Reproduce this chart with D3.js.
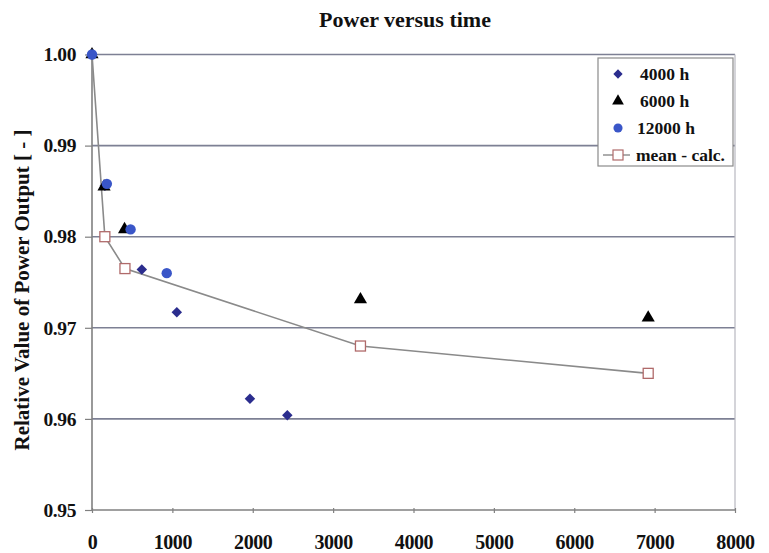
<!DOCTYPE html>
<html><head><meta charset="utf-8">
<script src="https://cdn.jsdelivr.net/npm/d3@7"></script>
<style>
body{margin:0;background:#fff;}
svg text{font-family:'Times New Roman','Liberation Serif',Times,serif !important;font-weight:bold;fill:#111;}
</style></head>
<body><svg id="c" width="769" height="553" style="font-family:'Times New Roman','Liberation Serif',serif"></svg>
<script>
// Data (hours, relative power)
const series4000X = [0, 160, 620, 1055, 1965, 2430];
const series4000Y = [1.000, 0.9856, 0.9764, 0.9717, 0.9622, 0.9604];
const series6000X = [0, 150, 405, 3340, 6920];
const series6000Y = [1.000, 0.9855, 0.9808, 0.9731, 0.9711];
const series12000X = [0, 185, 480, 930];
const series12000Y = [1.000, 0.9858, 0.9808, 0.9760];
const meanX = [0, 160, 410, 3340, 6920];
const meanY = [1.000, 0.9800, 0.9765, 0.9680, 0.9650];
const xTicks = [0,1000,2000,3000,4000,5000,6000,7000,8000];
const yTicks = [0.95,0.96,0.97,0.98,0.99,1.00];
const legendLabels = ["4000 h","6000 h","12000 h","mean - calc."];
const titleText = "Power versus time";
const yTitle = "Relative Value of Power Output [ - ]";

const FONT = "'Times New Roman','Liberation Serif',serif";
const svg = d3.select("#c");
const L=92, R=735, T=54.5, B=510;
const x = d3.scaleLinear().domain([0,8000]).range([L,R]);
const y = d3.scaleLinear().domain([0.95,1.00]).range([B,T]);

// gridlines
svg.append("g").selectAll("line").data(yTicks.filter(d=>d>0.95)).join("line")
  .attr("x1",L).attr("x2",R).attr("y1",d=>y(d)).attr("y2",d=>y(d))
  .attr("stroke","#7d8094").attr("stroke-width",1.6);
// right border
svg.append("line").attr("x1",R).attr("x2",R).attr("y1",T).attr("y2",B).attr("stroke","#b8b8c0").attr("stroke-width",1.2);

// axes
const xAxis = d3.axisBottom(x).tickValues(xTicks).tickSize(5).tickFormat(d3.format("d"));
const gx = svg.append("g").attr("transform",`translate(0,${B-2})`).call(xAxis).attr("font-family",FONT);
gx.select(".domain").attr("stroke","#808080").attr("stroke-width",1.6).attr("d",`M${L},2H${R}`);
gx.selectAll(".tick line").attr("stroke","#808080").attr("stroke-width",1.2);
gx.selectAll(".tick text").attr("y",41).attr("dy","0").attr("font-size",20).attr("letter-spacing","-0.4").attr("fill","#111");

const yAxis = d3.axisLeft(y).tickValues(yTicks).tickSize(7).tickFormat(d3.format(".2f"));
const gy = svg.append("g").attr("transform",`translate(${L},0)`).call(yAxis).attr("font-family",FONT);
gy.select(".domain").attr("stroke","#808080").attr("stroke-width",1.6).attr("d",`M0,${T}V${B}`);
gy.selectAll(".tick line").attr("stroke","#808080").attr("stroke-width",1.2);
gy.selectAll(".tick text").attr("x",-16).attr("font-size",19.5).attr("letter-spacing","-0.4").attr("fill","#111");

// title
svg.append("text").attr("x",405).attr("y",27).attr("text-anchor","middle").attr("font-size",22).text(titleText);
// y title
svg.append("text").attr("transform","translate(29,290) rotate(-90)").attr("text-anchor","middle")
  .attr("font-size",21).text(yTitle);

// mean line
const meanPts = meanX.map((v,i)=>[v,meanY[i]]);
svg.append("path").datum(meanPts)
  .attr("d",d3.line().x(d=>x(d[0])).y(d=>y(d[1])))
  .attr("fill","none").attr("stroke","#8a8a8a").attr("stroke-width",1.6);

const diamond = d3.symbol().type(d3.symbolDiamond2).size(70);
const tri = d3.symbol().type(d3.symbolTriangle).size(75);
const circ = d3.symbol().type(d3.symbolCircle).size(85);

const s4 = series4000X.map((v,i)=>[v,series4000Y[i]]);
const s6 = series6000X.map((v,i)=>[v,series6000Y[i]]);
const s12 = series12000X.map((v,i)=>[v,series12000Y[i]]);

svg.append("g").selectAll("path").data(s4).join("path")
  .attr("d",diamond).attr("transform",d=>`translate(${x(d[0])},${y(d[1])})`).attr("fill","#2b2d8e");
svg.append("g").selectAll("path").data(s6).join("path")
  .attr("d",tri).attr("transform",d=>`translate(${x(d[0])},${y(d[1])})`).attr("fill","#000");
svg.append("g").selectAll("path").data(s12).join("path")
  .attr("d",circ).attr("transform",d=>`translate(${x(d[0])},${y(d[1])})`).attr("fill","#3a56c8");
svg.append("g").selectAll("rect").data(meanPts).join("rect")
  .attr("x",d=>x(d[0])-5).attr("y",d=>y(d[1])-5).attr("width",10).attr("height",10)
  .attr("fill","#fff").attr("stroke","#b06a6a").attr("stroke-width",1.3)
  .attr("display",(d,i)=>i===0?"none":null);

// legend
const lg = svg.append("g");
lg.append("rect").attr("x",598).attr("y",58).attr("width",135).attr("height",108)
  .attr("fill","#fff").attr("stroke","#8a8a8a").attr("stroke-width",1.2);
const ly = [74,101,128,155];
const items = lg.selectAll("g").data(legendLabels).join("g").attr("transform",(d,i)=>`translate(618,${ly[i]})`);
items.each(function(d,i){
  const g=d3.select(this);
  if(i===0) g.append("path").attr("d",d3.symbol().type(d3.symbolDiamond2).size(55)).attr("fill","#2b2d8e");
  if(i===1) g.append("path").attr("d",d3.symbol().type(d3.symbolTriangle).size(60)).attr("fill","#000");
  if(i===2) g.append("path").attr("d",d3.symbol().type(d3.symbolCircle).size(65)).attr("fill","#3a56c8");
  if(i===3){
    g.append("line").attr("x1",-15).attr("x2",12).attr("stroke","#8a8a8a").attr("stroke-width",1.4);
    g.append("rect").attr("x",-5).attr("y",-5).attr("width",10).attr("height",10).attr("fill","#fff").attr("stroke","#b06a6a").attr("stroke-width",1.2);
  }
  g.append("text").attr("x",i===3?18:(i===2?19:22)).attr("dy","0.35em").attr("font-size",17.5).text(d);
});
</script></body></html>
